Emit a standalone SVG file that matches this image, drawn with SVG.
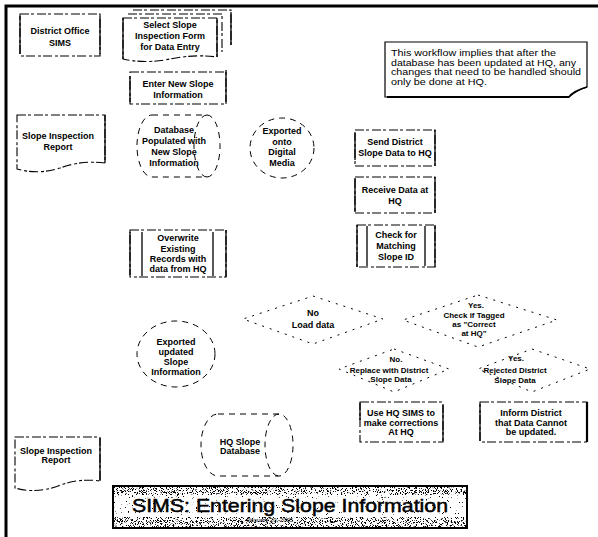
<svg xmlns="http://www.w3.org/2000/svg" width="598" height="537" viewBox="0 0 598 537">
  <defs>
    <style>
      .frame { stroke:#000; stroke-width:3; fill:none; }
      .box { fill:none; stroke:#000; stroke-width:1.1; stroke-dasharray:9 2 3 3; }
      .side { fill:none; stroke:#000; stroke-width:1.3; }
      .oval { fill:none; stroke:#000; stroke-width:1; stroke-dasharray:6 5; }
      .dia { fill:none; stroke:#000; stroke-width:1; stroke-dasharray:2 6; }
      .t { font-family:"Liberation Sans", Arial, sans-serif; font-weight:bold; font-size:9px; text-anchor:middle; fill:#000; }
      .s { font-size:8px; }
      .note { font-family:"Liberation Sans", Arial, sans-serif; font-size:8.8px; fill:#000; }
      .title { font-family:"Liberation Sans", Arial, sans-serif; font-size:19px; fill:#000; stroke:#000; stroke-width:0.5; }
      .sub { font-family:"Liberation Sans", Arial, sans-serif; font-size:6px; fill:#000; text-anchor:middle; }
    </style>
    <filter id="grainDense" x="0" y="0" width="100%" height="100%">
      <feTurbulence type="fractalNoise" baseFrequency="1.2" numOctaves="2" seed="7"/>
      <feColorMatrix type="matrix" values="0 0 0 0 0  0 0 0 0 0  0 0 0 0 0  16 0 0 0 -8.8"/>
    </filter>
    <filter id="grainLight" x="0" y="0" width="100%" height="100%">
      <feTurbulence type="fractalNoise" baseFrequency="1.2" numOctaves="2" seed="11"/>
      <feColorMatrix type="matrix" values="0 0 0 0 0  0 0 0 0 0  0 0 0 0 0  16 0 0 0 -11.2"/>
    </filter>
  </defs>

  <rect width="598" height="537" fill="#fff"/>

  <!-- page frame (top and left rules) -->
  <path class="frame" d="M6,537 V6 H598"/>

  <g id="connectors"></g>

  <g id="district-office-sims">
    <rect class="box" x="20" y="14" width="80" height="42"/>
    <path class="side" d="M20,16 V54 M100,16 V54"/>
    <text class="t" x="60" y="34" font-size="9.5">District Office</text>
    <text class="t" x="60" y="46" font-size="9.5">SIMS</text>
  </g>

  <g id="select-slope-form">
    <path class="box" d="M133,10 H231 V45"/>
    <path class="box" d="M128,14 H222 V52"/>
    <path class="box" d="M123,18 H217 V57 Q195,54 170,59 Q145,64 123,59 Z" fill="#fff"/>
    <path class="side" d="M123,18 V59 M217,18 V57 M231,12 V45"/>
    <text class="t" x="170" y="28">Select Slope</text>
    <text class="t" x="170" y="39">Inspection Form</text>
    <text class="t" x="170" y="50">for Data Entry</text>
  </g>

  <g id="enter-new-slope-info">
    <rect class="box" x="130" y="72" width="96" height="32"/>
    <path class="side" d="M130,76 V102 M226,70 V102"/>
    <text class="t" x="178" y="87">Enter New Slope</text>
    <text class="t" x="178" y="98">Information</text>
  </g>

  <g id="slope-inspection-report-top">
    <path class="box" d="M17,115 H105 V163 Q82,160 60,168 Q38,175 17,169 Z"/>
    <path class="side" d="M105,115 V163"/>
    <text class="t" x="58" y="139" font-size="9.5">Slope Inspection</text>
    <text class="t" x="58" y="150" font-size="9.5">Report</text>
  </g>

  <g id="database-populated">
    <path class="oval" d="M152,115 H207 A13,31 0 0 1 207,177 H152 A15,31 0 0 1 152,115 Z"/>
    <path class="oval" d="M207,115 A13,31 0 0 0 207,177"/>
    <text class="t" x="174" y="133">Database</text>
    <text class="t" x="174" y="144">Populated with</text>
    <text class="t" x="174" y="155">New Slope</text>
    <text class="t" x="174" y="166">Information</text>
  </g>

  <g id="exported-digital-media">
    <ellipse class="oval" cx="282" cy="148" rx="32" ry="30"/>
    <text class="t" x="282" y="134">Exported</text>
    <text class="t" x="282" y="145">onto</text>
    <text class="t" x="282" y="155">Digital</text>
    <text class="t" x="282" y="166">Media</text>
  </g>

  <g id="workflow-note">
    <path d="M385,42 H587 V87 Q577,90 569,97 H385 Z" fill="#fff" stroke="#000" stroke-width="1.2"/>
    <path d="M569,97 Q573,91 587,87" fill="none" stroke="#000" stroke-width="1.6"/>
    <path d="M387,97 H569" stroke="#000" stroke-width="1.8"/>
    <text class="note" x="391" y="56" textLength="165" lengthAdjust="spacingAndGlyphs">This workflow implies that after the</text>
    <text class="note" x="391" y="65.5" textLength="185" lengthAdjust="spacingAndGlyphs">database has been updated at HQ, any</text>
    <text class="note" x="391" y="75" textLength="190" lengthAdjust="spacingAndGlyphs">changes that need to be handled should</text>
    <text class="note" x="391" y="84.5" textLength="96" lengthAdjust="spacingAndGlyphs">only be done at HQ.</text>
  </g>

  <g id="send-district-data">
    <rect class="box" x="355" y="130" width="80" height="36"/>
    <path class="side" d="M355,133 V160 M435,130 V166"/>
    <text class="t" x="395" y="145">Send District</text>
    <text class="t" x="395" y="156">Slope Data to HQ</text>
  </g>

  <g id="receive-data-hq">
    <rect class="box" x="355" y="177" width="80" height="36"/>
    <path class="side" d="M355,178 V212 M435,177 V213"/>
    <text class="t" x="395" y="193">Receive Data at</text>
    <text class="t" x="395" y="204">HQ</text>
  </g>

  <g id="check-matching-id">
    <rect class="box" x="357" y="225" width="78" height="42"/>
    <path class="side" d="M357,225 V267 M367,226 V266 M425,226 V266 M435,225 V267"/>
    <text class="t" x="396" y="238">Check for</text>
    <text class="t" x="396" y="249">Matching</text>
    <text class="t" x="396" y="260">Slope ID</text>
  </g>

  <g id="overwrite-records">
    <rect class="box" x="130" y="230" width="96" height="47"/>
    <path class="side" d="M130,232 V275 M142,232 V276 M213,232 V276 M226,230 V277"/>
    <text class="t" x="178" y="241">Overwrite</text>
    <text class="t" x="178" y="252">Existing</text>
    <text class="t" x="178" y="262">Records with</text>
    <text class="t" x="178" y="272">data from HQ</text>
  </g>

  <g id="no-load-data">
    <polygon class="dia" points="313,296 383,319 313,344 243,319"/>
    <text class="t" x="313" y="316">No</text>
    <text class="t" x="313" y="328">Load data</text>
  </g>

  <g id="check-tagged-correct">
    <polygon class="dia" points="478,295 557,320 478,347 403,320"/>
    <text class="t s" x="476" y="308">Yes.</text>
    <text class="t s" x="474" y="318">Check if Tagged</text>
    <text class="t s" x="474" y="327">as "Correct</text>
    <text class="t s" x="474" y="336">at HQ"</text>
  </g>

  <g id="replace-district-data">
    <polygon class="dia" points="394,349 449,369 394,392 339,369"/>
    <text class="t s" x="396" y="362">No.</text>
    <text class="t s" x="389" y="373">Replace with District</text>
    <text class="t s" x="391" y="382">Slope Data</text>
  </g>

  <g id="rejected-district-data">
    <polygon class="dia" points="532,349 590,369 532,392 478,369"/>
    <text class="t s" x="516" y="361">Yes.</text>
    <text class="t s" x="515" y="373">Rejected District</text>
    <text class="t s" x="515" y="383">Slope Data</text>
  </g>

  <g id="use-hq-sims">
    <rect class="box" x="360" y="402" width="83" height="40"/>
    <path class="side" d="M360,403 V420 M443,405 V441"/>
    <text class="t" x="401" y="416">Use HQ SIMS to</text>
    <text class="t" x="401" y="425.5">make corrections</text>
    <text class="t" x="401" y="435">At HQ</text>
  </g>

  <g id="inform-district">
    <rect class="box" x="480" y="402" width="107" height="40"/>
    <path class="side" d="M480,404 V441"/>
    <path d="M587,402 V442" stroke="#000" stroke-width="2.2"/>
    <text class="t" x="531" y="416">Inform District</text>
    <text class="t" x="531" y="426">that Data Cannot</text>
    <text class="t" x="531" y="435">be updated.</text>
  </g>

  <g id="exported-updated-info">
    <ellipse class="oval" cx="176" cy="354" rx="39" ry="33"/>
    <text class="t" x="176" y="345">Exported</text>
    <text class="t" x="176" y="355">updated</text>
    <text class="t" x="176" y="365">Slope</text>
    <text class="t" x="176" y="375">Information</text>
  </g>

  <g id="hq-slope-database">
    <path class="oval" d="M218,414 H279 A14,31 0 0 1 279,476 H218 A17,31 0 0 1 218,414 Z"/>
    <path class="oval" d="M279,414 A14,31 0 0 0 279,476"/>
    <text class="t" x="240" y="445">HQ Slope</text>
    <text class="t" x="240" y="454">Database</text>
  </g>

  <g id="slope-inspection-report-bottom">
    <path class="box" d="M15,437 H100 V481 Q78,478 58,486 Q36,494 15,488 Z"/>
    <path class="side" d="M100,438 V481"/>
    <text class="t" x="56" y="454" font-size="8.5">Slope Inspection</text>
    <text class="t" x="56" y="463" font-size="8.5">Report</text>
  </g>

  <g id="title-banner">
    <rect x="113" y="486" width="354" height="42" fill="#fff" stroke="#000" stroke-width="2"/>
    <rect x="114" y="487" width="352" height="8" filter="url(#grainDense)"/>
    <rect x="114" y="495" width="352" height="20" filter="url(#grainLight)"/>
    <rect x="114" y="517" width="352" height="10" filter="url(#grainDense)"/>
    <text class="title" x="132" y="512" textLength="316" lengthAdjust="spacingAndGlyphs">SIMS: Entering Slope Information</text>
    <text class="sub" x="270" y="522">January 20, 2005</text>
  </g>
</svg>
